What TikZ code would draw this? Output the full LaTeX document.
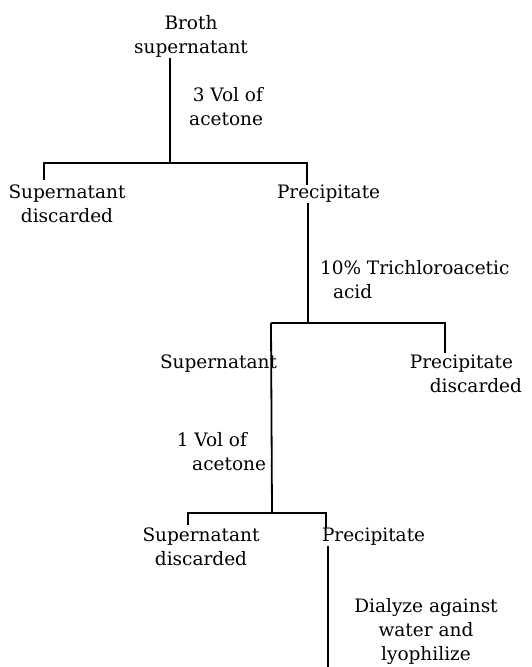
\documentclass[tikz,border=0pt]{standalone}
\usepackage{fontspec}
\setmainfont{DejaVu Serif}
\begin{document}
\begin{tikzpicture}[x=1pt,y=-1pt,line width=1.8pt,
    every node/.style={inner sep=0pt,outer sep=0pt,font=\fontsize{18.5}{24}\selectfont}]
  \useasboundingbox (0,0) rectangle (532,667);

  % Starting material and first acetone step
  \node[align=center,anchor=north] (broth) at (191,15) {Broth\\supernatant};
  \node[align=right,anchor=north east] (vol3) at (263,87) {3 Vol of\\acetone};
  \node[align=center,anchor=north] (sd1) at (67,185) {Supernatant\\discarded};
  \node[anchor=north west] (pr1) at (277,185) {Precipitate};

  \coordinate (j1) at (170,163);
  \coordinate (l1) at (44,163);
  \coordinate (r1) at (307,163);
  \draw[shorten <=1pt] (j1 |- broth.south) -- (j1);
  \draw[shorten <=5pt] (l1 |- sd1.north) -- (l1) -- (r1) -- (r1 |- pr1.north);

  % Trichloroacetic acid step
  \node[align=left,anchor=north west] (tca) at (320,260) {10\% Trichloroacetic\\\hspace*{13pt}acid};
  \node[anchor=north east] (su2) at (277,355) {Supernatant};
  \node[align=right,anchor=north east] (pd2) at (522,355) {Precipitate\hspace*{9pt}\\discarded};

  \coordinate (j2) at (308,323);
  \coordinate (l2) at (271,323);
  \coordinate (r2) at (445,323);
  \draw[shorten <=1pt] (j2 |- pr1.south) -- (j2);
  \draw[shorten >=2pt] (l2) -- (r2) -- (r2 |- pd2.north);

  % Second acetone step
  \node[align=right,anchor=north east] (vol1) at (266,432) {1 Vol of\hspace*{19pt}\\acetone};
  \node[align=center,anchor=north] (sd3) at (201,528) {Supernatant\\discarded};
  \node[anchor=north west] (pr3) at (322,528) {Precipitate};

  \coordinate (j3) at (272,513);
  \coordinate (l3) at (188,513);
  \coordinate (r3) at (326,513);
  \draw (l2) -- (j3);
  \draw[shorten <=3pt] (l3 |- sd3.north) -- (l3) -- (r3) -- (r3 |- pr3.north);

  % Dialysis
  \node[align=center,anchor=north] (dia) at (426,598) {Dialyze against\\water and\\lyophilize};
  \coordinate (fin) at (328,667);
  \draw[shorten <=1pt] (fin |- pr3.south) -- (fin);
\end{tikzpicture}
\end{document}
